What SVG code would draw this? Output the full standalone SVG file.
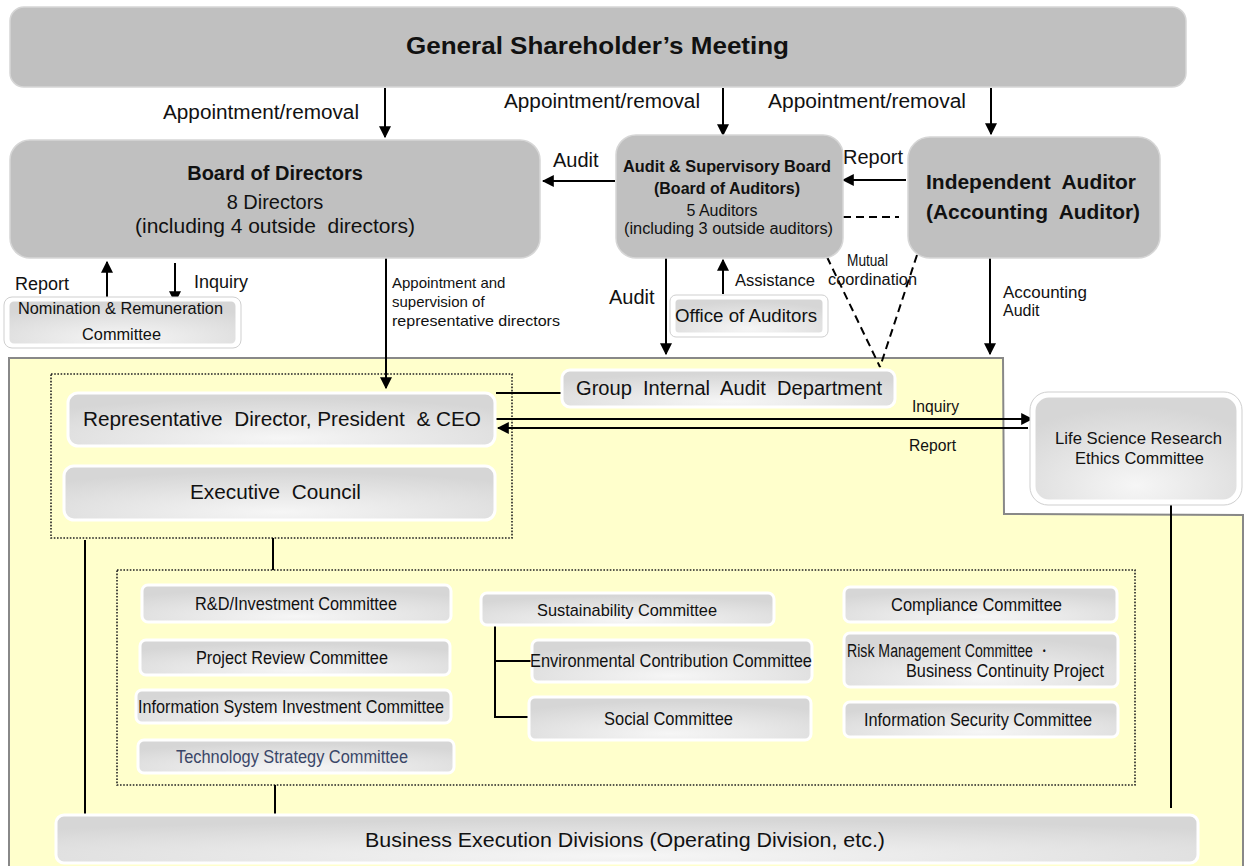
<svg xmlns="http://www.w3.org/2000/svg" width="1248" height="866" viewBox="0 0 1248 866">
<style>
text{font-family:"Liberation Sans",Arial,sans-serif;fill:#111;white-space:pre}
.b{font-weight:bold}
.n{font-family:"Liberation Sans Narrow","Liberation Sans",Arial,sans-serif}
.gray{fill:#c0c0c0;stroke:#d6d6d6;stroke-width:1.5}
.gbox{fill:url(#g);stroke:#fff;stroke-width:3}
.outer{fill:#fff;stroke:#cfcfcf;stroke-width:1}
.dot{fill:none;stroke:#222;stroke-width:1.6;stroke-dasharray:1.6 1.6}
.ln{stroke:#000;stroke-width:2;fill:none}
.arr{marker-end:url(#ah)}
.dash{stroke-dasharray:8 5}
</style>
<defs>
<marker id="ah" viewBox="0 0 10 10" refX="9" refY="5" markerWidth="6" markerHeight="6" orient="auto" markerUnits="strokeWidth">
<path d="M0,0 L10,5 L0,10 z" fill="#000"/>
</marker>
<radialGradient id="g" cx="50%" cy="85%" r="75%">
<stop offset="0" stop-color="#f6f6f6"/>
<stop offset="1" stop-color="#d6d6d6"/>
</radialGradient>
</defs>
<rect width="1248" height="866" fill="#fff"/>
<polygon id="executive-area" points="9,358 1003,358 1004,514 1243,515 1243,870 9,870" fill="#ffffcc" stroke="#888" stroke-width="2"/>
<rect id="exec-group" class="dot" x="51" y="374" width="461" height="164"/>
<rect id="committee-group" class="dot" x="117" y="570" width="1018" height="215"/>

<g id="connectors">
<path class="ln arr" d="M385,88 V137"/>
<path class="ln arr" d="M723,88 V135"/>
<path class="ln arr" d="M991,88 V134"/>
<path class="ln arr" d="M615,181 H543"/>
<path class="ln arr" d="M906,180 H843"/>
<path class="ln dash" d="M843,217 H899"/>
<path class="ln dash" d="M827,257 L880,367"/>
<path class="ln dash" d="M917,255 L880,367"/>
<path class="ln arr" d="M107,302 V262"/>
<path class="ln arr" d="M175,263 V302"/>
<path class="ln arr" d="M386,258 V388"/>
<path class="ln arr" d="M666,258 V354"/>
<path class="ln arr" d="M723,294 V260"/>
<path class="ln arr" d="M990,258 V354"/>
<path class="ln" d="M496,393 H562"/>
<path class="ln arr" d="M496,419 H1032"/>
<path class="ln arr" d="M1028,428 H498"/>
<path class="ln" d="M273,538 V570"/>
<path class="ln" d="M85,540 V815"/>
<path class="ln" d="M275,785 V815"/>
<path class="ln" d="M1171,504 V808"/>
<path class="ln" d="M495,626 V717 H529 M495,661 H532"/>
<text x="163" y="119" font-size="20" textLength="196" lengthAdjust="spacingAndGlyphs">Appointment/removal</text>
<text x="504" y="108" font-size="20" textLength="196" lengthAdjust="spacingAndGlyphs">Appointment/removal</text>
<text x="768" y="108" font-size="20" textLength="198" lengthAdjust="spacingAndGlyphs">Appointment/removal</text>
<text x="553" y="167" font-size="20">Audit</text>
<text x="843" y="164" font-size="20">Report</text>
<text x="15" y="290" font-size="18">Report</text>
<text x="194" y="288" font-size="18">Inquiry</text>
<text x="392" y="288" font-size="15">Appointment and</text>
<text x="392" y="307" font-size="15">supervision of</text>
<text x="392" y="326" font-size="15" textLength="168" lengthAdjust="spacingAndGlyphs">representative directors</text>
<text x="609" y="304" font-size="20">Audit</text>
<text x="735" y="286" font-size="16" textLength="80" lengthAdjust="spacingAndGlyphs">Assistance</text>
<text x="847" y="266" font-size="16" textLength="41" lengthAdjust="spacingAndGlyphs">Mutual</text>
<text x="828" y="285" font-size="16" textLength="89" lengthAdjust="spacingAndGlyphs">coordination</text>
<text x="1003" y="298" font-size="16" textLength="84" lengthAdjust="spacingAndGlyphs">Accounting</text>
<text x="1003" y="316" font-size="16">Audit</text>
<text x="912" y="412" font-size="16" textLength="47" lengthAdjust="spacingAndGlyphs">Inquiry</text>
<text x="909" y="451" font-size="16" textLength="47" lengthAdjust="spacingAndGlyphs">Report</text>
</g>

<g id="gsm">
<rect class="gray" x="10" y="7" width="1176" height="80" rx="14"/>
<text class="b" x="406" y="54" font-size="24" textLength="383" lengthAdjust="spacingAndGlyphs">General Shareholder’s Meeting</text>
</g>
<g id="board">
<rect class="gray" x="10" y="140" width="530" height="118" rx="20"/>
<text class="b" x="275" y="180" font-size="20" text-anchor="middle">Board of Directors</text>
<text x="275" y="209" font-size="20" text-anchor="middle">8 Directors</text>
<text x="135" y="233" font-size="20" textLength="280" lengthAdjust="spacingAndGlyphs">(including 4 outside  directors)</text>
</g>
<g id="asb">
<rect class="gray" x="616" y="135" width="227" height="123" rx="20"/>
<text class="b" x="623" y="172" font-size="16" textLength="208" lengthAdjust="spacingAndGlyphs">Audit &amp; Supervisory Board</text>
<text class="b" x="727" y="194" font-size="16" text-anchor="middle">(Board of Auditors)</text>
<text x="722" y="216" font-size="16" text-anchor="middle">5 Auditors</text>
<text x="624" y="234" font-size="16" textLength="209" lengthAdjust="spacingAndGlyphs">(including 3 outside auditors)</text>
</g>
<g id="ia">
<rect class="gray" x="908" y="137" width="252" height="121" rx="22"/>
<text class="b" x="926" y="189" font-size="20" textLength="210" lengthAdjust="spacingAndGlyphs">Independent  Auditor</text>
<text class="b" x="926" y="219" font-size="20" textLength="214" lengthAdjust="spacingAndGlyphs">(Accounting  Auditor)</text>
</g>
<g id="nomination">
<rect class="outer" x="4" y="297" width="237" height="51" rx="8"/>
<rect class="gbox" x="8" y="300" width="229" height="45" rx="6" stroke-width="1"/>
<text class="n" x="18" y="314" font-size="17" textLength="205" lengthAdjust="spacingAndGlyphs">Nomination &amp; Remuneration</text>
<text class="n" x="82" y="340" font-size="17" textLength="79" lengthAdjust="spacingAndGlyphs">Committee</text>
</g>
<g id="office">
<rect class="outer" x="670" y="295" width="158" height="42" rx="6"/>
<rect class="gbox" x="674" y="298" width="150" height="36" rx="5" stroke-width="1"/>
<text x="675" y="322" font-size="18" textLength="142" lengthAdjust="spacingAndGlyphs">Office of Auditors</text>
</g>
<g id="group-audit">
<rect class="gbox" x="562" y="370" width="333" height="37" rx="8"/>
<text x="576" y="395" font-size="20" textLength="306" lengthAdjust="spacingAndGlyphs">Group  Internal  Audit  Department</text>
</g>
<g id="ceo">
<rect class="gbox" x="68" y="393" width="427" height="53" rx="10"/>
<text x="83" y="426" font-size="20" textLength="398" lengthAdjust="spacingAndGlyphs">Representative  Director, President  &amp; CEO</text>
</g>
<g id="exec-council">
<rect class="gbox" x="64" y="466" width="431" height="54" rx="10"/>
<text x="190" y="499" font-size="20" textLength="171" lengthAdjust="spacingAndGlyphs">Executive  Council</text>
</g>
<g id="life-science">
<rect class="outer" x="1030" y="392" width="212" height="113" rx="18"/>
<rect class="gbox" x="1034" y="396" width="204" height="105" rx="15" stroke-width="1"/>
<text class="n" x="1055" y="444" font-size="17" textLength="167" lengthAdjust="spacingAndGlyphs">Life Science Research</text>
<text class="n" x="1075" y="464" font-size="17" textLength="129" lengthAdjust="spacingAndGlyphs">Ethics Committee</text>
</g>
<g id="rd">
<rect class="gbox" x="142" y="585" width="309" height="37" rx="6"/>
<text class="n" x="195" y="610" font-size="18" textLength="202" lengthAdjust="spacingAndGlyphs">R&amp;D/Investment Committee</text>
</g>
<g id="project-review">
<rect class="gbox" x="140" y="640" width="310" height="35" rx="6"/>
<text class="n" x="196" y="664" font-size="18" textLength="192" lengthAdjust="spacingAndGlyphs">Project Review Committee</text>
</g>
<g id="info-system">
<rect class="gbox" x="136" y="690" width="315" height="33" rx="6"/>
<text class="n" x="138" y="713" font-size="18" textLength="306" lengthAdjust="spacingAndGlyphs">Information System Investment Committee</text>
</g>
<g id="tech-strategy">
<rect class="gbox" x="138" y="740" width="316" height="33" rx="6"/>
<text class="n" x="176" y="763" font-size="18" textLength="232" lengthAdjust="spacingAndGlyphs" style="fill:#3a4668">Technology Strategy Committee</text>
</g>
<g id="sustainability">
<rect class="gbox" x="481" y="593" width="293" height="32" rx="6"/>
<text class="n" x="537" y="616" font-size="17" textLength="180" lengthAdjust="spacingAndGlyphs">Sustainability Committee</text>
</g>
<g id="environmental">
<rect class="gbox" x="532" y="640" width="280" height="42" rx="6"/>
<text class="n" x="530" y="667" font-size="18" textLength="282" lengthAdjust="spacingAndGlyphs">Environmental Contribution Committee</text>
</g>
<g id="social">
<rect class="gbox" x="529" y="697" width="282" height="43" rx="6"/>
<text class="n" x="604" y="725" font-size="18" textLength="129" lengthAdjust="spacingAndGlyphs">Social Committee</text>
</g>
<g id="compliance">
<rect class="gbox" x="844" y="587" width="273" height="35" rx="6"/>
<text class="n" x="891" y="611" font-size="18" textLength="171" lengthAdjust="spacingAndGlyphs">Compliance Committee</text>
</g>
<g id="risk">
<rect class="gbox" x="844" y="633" width="274" height="54" rx="6"/>
<text class="n" x="847" y="657" font-size="18" textLength="204" lengthAdjust="spacingAndGlyphs">Risk Management Committee ・</text>
<text class="n" x="906" y="677" font-size="18" textLength="198" lengthAdjust="spacingAndGlyphs">Business Continuity Project</text>
</g>
<g id="info-security">
<rect class="gbox" x="844" y="702" width="274" height="35" rx="6"/>
<text class="n" x="864" y="726" font-size="18" textLength="228" lengthAdjust="spacingAndGlyphs">Information Security Committee</text>
</g>
<g id="business-execution">
<rect class="gbox" x="56" y="815" width="1142" height="48" rx="8"/>
<text class="n" x="365" y="847" font-size="21" textLength="520" lengthAdjust="spacingAndGlyphs">Business Execution Divisions (Operating Division, etc.)</text>
</g>
</svg>
